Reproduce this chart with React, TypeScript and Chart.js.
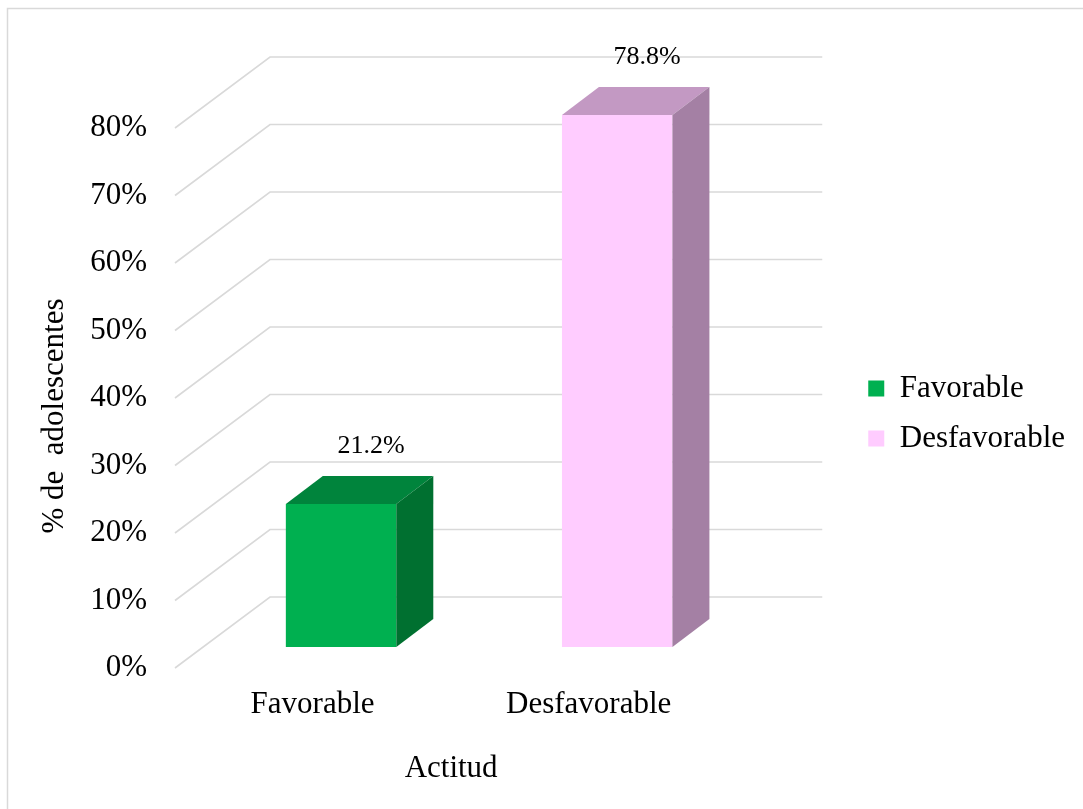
import { useEffect, useRef } from "react";
import { Chart, registerables } from "chart.js";

Chart.register(...registerables);

// ---- data ----
const categories = ["Favorable", "Desfavorable"];
const seriesNames = ["Favorable", "Desfavorable"];
const favorableValues = [21.2, null];
const desfavorableValues = [null, 78.8];
const yMin = 0;
const yMax = 80;
const yStep = 10;
const yAxisTitle = "% de  adolescentes";
const xAxisTitle = "Actitud";

// ---- styles ----
const frontColors = ["#00B050", "#FFCCFF"];
const topColors = ["#00843C", "#C399C3"];
const sideColors = ["#007030", "#A480A4"];
const FONT = "'Liberation Serif', 'Times New Roman', Times, serif";
const GRID = "#D9D9D9";

// 3D projection offsets (pixels)
const FRONT_DX = -28;
const FRONT_DY = 21;
const BACK_DX = 67;
const BACK_DY = -50;
const BAR_DX = 37;
const BAR_DY = -28;

const threeD = {
  id: "threeD",
  beforeDraw(chart: any) {
    const { ctx } = chart;
    ctx.save();
    ctx.strokeStyle = GRID;
    ctx.lineWidth = 1.5;
    ctx.strokeRect(7.5, 8.5, 3000, 3000);
    ctx.restore();
  },
  beforeDatasetsDraw(chart: any) {
    const { ctx, chartArea } = chart;
    const y = chart.scales.y;
    ctx.save();
    ctx.strokeStyle = GRID;
    ctx.lineWidth = 1.6;
    y.ticks.forEach((t: any) => {
      const py = y.getPixelForValue(t.value);
      ctx.beginPath();
      ctx.moveTo(chartArea.left + FRONT_DX, py + FRONT_DY);
      ctx.lineTo(chartArea.left + BACK_DX, py + BACK_DY);
      ctx.lineTo(chartArea.right + BACK_DX, py + BACK_DY);
      ctx.stroke();
    });
    ctx.restore();
  },
  afterDatasetsDraw(chart: any) {
    const { ctx } = chart;
    chart.data.datasets.forEach((ds: any, di: number) => {
      const meta = chart.getDatasetMeta(di);
      meta.data.forEach((el: any, i: number) => {
        const v = ds.data[i];
        if (v == null) return;
        const { x, y, base, width } = el.getProps(["x", "y", "base", "width"], true);
        const l = x - width / 2;
        const r = x + width / 2;
        ctx.save();
        ctx.fillStyle = topColors[di];
        ctx.beginPath();
        ctx.moveTo(l, y);
        ctx.lineTo(l + BAR_DX, y + BAR_DY);
        ctx.lineTo(r + BAR_DX, y + BAR_DY);
        ctx.lineTo(r, y);
        ctx.closePath();
        ctx.fill();
        ctx.fillStyle = sideColors[di];
        ctx.beginPath();
        ctx.moveTo(r, y);
        ctx.lineTo(r + BAR_DX, y + BAR_DY);
        ctx.lineTo(r + BAR_DX, base + BAR_DY);
        ctx.lineTo(r, base);
        ctx.closePath();
        ctx.fill();
        ctx.fillStyle = "#000";
        ctx.font = `26px ${FONT}`;
        ctx.textAlign = "center";
        ctx.textBaseline = "alphabetic";
        ctx.fillText(v.toFixed(1) + "%", x + 30, y - 51);
        ctx.restore();
      });
    });
  },
  afterDraw(chart: any) {
    const { ctx, chartArea } = chart;
    ctx.save();
    ctx.fillStyle = "#000";
    ctx.font = `31px ${FONT}`;
    ctx.textAlign = "center";
    ctx.textBaseline = "alphabetic";
    // x title
    ctx.fillText(xAxisTitle, (chartArea.left + chartArea.right) / 2 + FRONT_DX, chartArea.bottom + 130);
    // y title
    ctx.translate(63, (chartArea.top + chartArea.bottom) / 2 + 39);
    ctx.rotate(-Math.PI / 2);
    ctx.fillText(yAxisTitle, 0, 0);
    ctx.restore();
  },
};

export default function App() {
  const ref = useRef<HTMLCanvasElement | null>(null);
  useEffect(() => {
    if (!ref.current) return;
    const chart = new Chart(ref.current, {
      type: "bar",
      data: {
        labels: categories,
        datasets: [
          { label: seriesNames[0], data: favorableValues, backgroundColor: frontColors[0], borderWidth: 0 },
          { label: seriesNames[1], data: desfavorableValues, backgroundColor: frontColors[1], borderWidth: 0 },
        ],
      },
      options: {
        animation: false,
        responsive: false,
        devicePixelRatio: 1,
        layout: { padding: { left: 0, top: 107, right: 8, bottom: 89 } },
        datasets: { bar: { skipNull: true, categoryPercentage: 0.4, barPercentage: 1 } },
        scales: {
          x: {
            grid: { display: false, drawTicks: false },
            border: { display: false },
            ticks: { font: { family: FONT, size: 31 }, color: "#000", padding: 39, labelOffset: -28.5, maxRotation: 0 },
            afterFit: (s: any) => { s.height = 73; },
          },
          y: {
            min: yMin,
            max: yMax,
            grid: { display: false, drawTicks: false },
            border: { display: false },
            ticks: {
              stepSize: yStep,
              callback: (v: any) => v + "%",
              font: { family: FONT, size: 31 },
              color: "#000",
              padding: 56,
              labelOffset: 21,
            },
            afterFit: (s: any) => { s.width = 203; },
          },
          y2: {
            position: "right",
            display: true,
            grid: { display: false, drawTicks: false },
            border: { display: false },
            ticks: { display: false },
            afterFit: (s: any) => { s.width = 94; },
          },
        },
        plugins: {
          legend: {
            position: "right",
            maxWidth: 500,
            labels: {
              boxWidth: 16,
              boxHeight: 16,
              padding: 19,
              font: { family: FONT, size: 31 },
              color: "#000",
            },
          },
          tooltip: { enabled: false },
        },
      } as any,
      plugins: [threeD],
    });
    return () => chart.destroy();
  }, []);
  return (
    <div style={{ position: "fixed", left: 0, top: 0, width: 1083, height: 809, background: "#fff" }}>
      <canvas ref={ref} width={1083} height={809} style={{ width: 1083, height: 809, display: "block" }} />
    </div>
  );
}
